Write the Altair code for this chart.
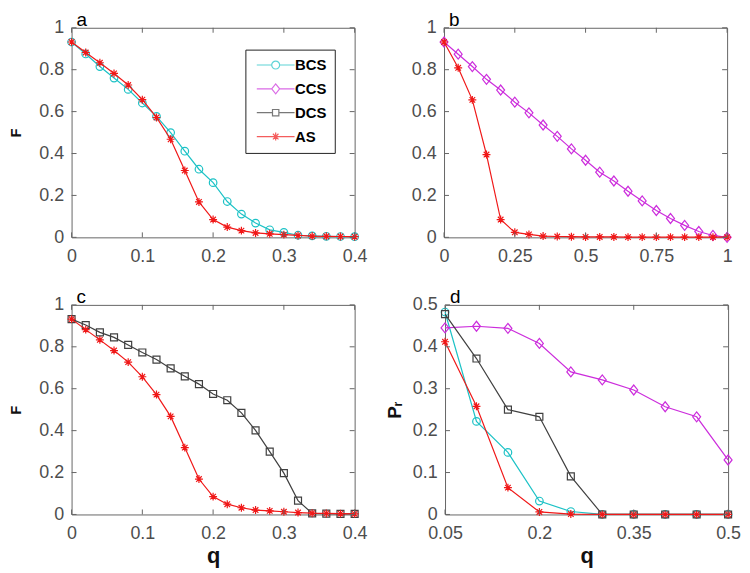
import altair as alt
import pandas as pd

# ---------------- data ----------------
series_names = ["BCS", "CCS", "DCS", "AS"]
series_colors = ["#1cc2c6", "#cc2ddc", "#404040", "#f01818"]

q_ac = [0.0, 0.02, 0.04, 0.06, 0.08, 0.10, 0.12, 0.14, 0.16, 0.18, 0.20,
        0.22, 0.24, 0.26, 0.28, 0.30, 0.32, 0.34, 0.36, 0.38, 0.40]
F_bcs_a = [0.932, 0.875, 0.815, 0.760, 0.706, 0.641, 0.577, 0.500, 0.411, 0.325, 0.261,
           0.171, 0.111, 0.068, 0.036, 0.024, 0.010, 0.007, 0.005, 0.004, 0.003]
F_as_ac = [0.932, 0.882, 0.833, 0.782, 0.727, 0.657, 0.572, 0.468, 0.319, 0.169, 0.085,
           0.049, 0.032, 0.021, 0.017, 0.013, 0.009, 0.006, 0.005, 0.004, 0.003]
F_dcs_c = [0.932, 0.904, 0.869, 0.845, 0.809, 0.773, 0.739, 0.697, 0.659, 0.622, 0.575,
           0.545, 0.485, 0.401, 0.300, 0.197, 0.066, 0.005, 0.004, 0.003, 0.003]

q_b = [0.0, 0.05, 0.10, 0.15, 0.20, 0.25, 0.30, 0.35, 0.40, 0.45, 0.50,
       0.55, 0.60, 0.65, 0.70, 0.75, 0.80, 0.85, 0.90, 0.95, 1.00]
F_ccs_b = [0.932, 0.874, 0.815, 0.754, 0.703, 0.645, 0.594, 0.536, 0.482, 0.422, 0.368,
           0.311, 0.269, 0.220, 0.174, 0.128, 0.090, 0.057, 0.028, 0.009, 0.000]
F_as_b = [0.932, 0.809, 0.656, 0.395, 0.085, 0.024, 0.014, 0.006, 0.004, 0.003, 0.002,
          0.002, 0.002, 0.001, 0.001, 0.001, 0.001, 0.001, 0.001, 0.001, 0.001]

q_d = [0.05, 0.10, 0.15, 0.20, 0.25, 0.30, 0.35, 0.40, 0.45, 0.50]
P_bcs_d = [0.483, 0.222, 0.148, 0.032, 0.007, 0.0, 0.0, 0.0, 0.0, 0.0]
P_ccs_d = [0.445, 0.449, 0.444, 0.408, 0.340, 0.321, 0.297, 0.257, 0.233, 0.130]
P_dcs_d = [0.478, 0.372, 0.250, 0.233, 0.091, 0.0, 0.0, 0.0, 0.0, 0.0]
P_as_d = [0.412, 0.258, 0.064, 0.006, 0.001, 0.0, 0.0, 0.0, 0.0, 0.0]

xticks_ac = [0, 0.1, 0.2, 0.3, 0.4]
xticks_b = [0, 0.25, 0.5, 0.75, 1]
xticks_d = [0.05, 0.2, 0.35, 0.5]
yticks_F = [0, 0.2, 0.4, 0.6, 0.8, 1]
yticks_P = [0, 0.1, 0.2, 0.3, 0.4, 0.5]

# ---------------- styling ----------------
W, H = 285, 211
FRAME = "#666666"
TICK_LEN = 5
FONT = "Liberation Sans"
LABEL_EXPR = "'' + datum.value"

ASTERISK = "M-1,0L1,0M0,-1L0,1M-0.7,-0.7L0.7,0.7M-0.7,0.7L0.7,-0.7"
DIAMOND = "M-1,0L0,-1.25L1,0L0,1.25Z"
marker_shape = {"BCS": "circle", "CCS": DIAMOND, "DCS": "square", "AS": ASTERISK}
marker_size = {"BCS": 58, "CCS": 64, "DCS": 49, "AS": 64}
color_of = dict(zip(series_names, series_colors))

STUB = "M-4.75,0L-1,0M1,0L4.75,0"
legend_paths = [
    STUB + "M-1,0A1,1,0,1,0,1,0A1,1,0,1,0,-1,0Z",
    STUB + "M-1,0L0,-1.25L1,0L0,1.25Z",
    "M-4.75,0L-0.8,0M0.8,0L4.75,0M-0.8,-0.8L0.8,-0.8L0.8,0.8L-0.8,0.8Z",
    "M-4.75,0L4.75,0M0,-1L0,1M-0.7,-0.7L0.7,0.7M-0.7,0.7L0.7,-0.7",
]


def panel(series, xdom, xticks, ydom, yticks, letter, ytitle, ytitle_size,
          ytitle_pad, xtitle, legend=False):
    frames = [pd.DataFrame({"q": xs, "v": ys, "series": name}) for name, xs, ys in series]
    df = pd.concat(frames, ignore_index=True)

    X = alt.X("q:Q",
              scale=alt.Scale(domain=xdom, nice=False, zero=False),
              axis=alt.Axis(values=xticks, labelExpr=LABEL_EXPR, grid=False, ticks=False,
                            domain=False, labelPadding=10, labelFlush=False,
                            labelOverlap=False, title=xtitle,
                            titleFontSize=22, titlePadding=3))
    Y = alt.Y("v:Q",
              scale=alt.Scale(domain=ydom, nice=False, zero=False),
              axis=alt.Axis(values=yticks, labelExpr=LABEL_EXPR, grid=False, ticks=False,
                            domain=False, labelPadding=8, labelFlush=False,
                            labelOverlap=False, title=ytitle,
                            titleFontSize=ytitle_size, titlePadding=ytitle_pad))

    layers = []
    for name, _, _ in series:
        c = color_of[name]
        base = alt.Chart(df).transform_filter(alt.datum.series == name)
        layers.append(base.mark_line(color=c, strokeWidth=1.2).encode(x=X, y=Y))
        layers.append(base.mark_point(shape=marker_shape[name], size=marker_size[name],
                                      filled=False, color=c, strokeWidth=1.2,
                                      opacity=1).encode(x=X, y=Y))

    xt = pd.DataFrame({"q": xticks})
    yt = pd.DataFrame({"v": yticks})
    layers.append(alt.Chart(xt).mark_rule(color=FRAME, strokeWidth=1).encode(
        x=X, y=alt.value(H), y2=alt.value(H - TICK_LEN)))
    layers.append(alt.Chart(xt).mark_rule(color=FRAME, strokeWidth=1).encode(
        x=X, y=alt.value(0), y2=alt.value(TICK_LEN)))
    layers.append(alt.Chart(yt).mark_rule(color=FRAME, strokeWidth=1).encode(
        y=Y, x=alt.value(0), x2=alt.value(TICK_LEN)))
    layers.append(alt.Chart(yt).mark_rule(color=FRAME, strokeWidth=1).encode(
        y=Y, x=alt.value(W - TICK_LEN), x2=alt.value(W)))

    layers.append(alt.Chart(pd.DataFrame({"t": [letter]})).mark_text(
        text=letter, align="left", baseline="alphabetic", fontSize=19,
        font=FONT, color="black").encode(x=alt.value(5), y=alt.value(-2)))

    if legend:
        leg = alt.Legend(orient="none", legendX=175, legendY=22, title=None,
                         padding=8, strokeColor="#222222", fillColor="white",
                         labelFont=FONT, labelFontWeight="bold", labelFontSize=15,
                         labelColor="black", symbolSize=64, symbolStrokeWidth=1.2,
                         symbolOffset=15, labelOffset=12, rowPadding=8)
        ldf = pd.DataFrame({"q": [0.0] * 4, "v": [0.0] * 4, "series": series_names})
        layers.append(alt.Chart(ldf).transform_filter("false").mark_point(
            filled=False, strokeWidth=1.2).encode(
            x=X, y=Y,
            color=alt.Color("series:N", scale=alt.Scale(domain=series_names,
                                                        range=series_colors), legend=leg),
            shape=alt.Shape("series:N", scale=alt.Scale(domain=series_names,
                                                        range=legend_paths), legend=leg)))

    return alt.layer(*layers).properties(width=W, height=H)


pa = panel([("BCS", q_ac, F_bcs_a), ("AS", q_ac, F_as_ac)],
           [0, 0.4], xticks_ac, [0, 1], yticks_F, "a", "F", 15, 15, None, legend=True)
pb = panel([("CCS", q_b, F_ccs_b), ("AS", q_b, F_as_b)],
           [0, 1], xticks_b, [0, 1], yticks_F, "b", None, 15, 15, None)
pc = panel([("DCS", q_ac, F_dcs_c), ("AS", q_ac, F_as_ac)],
           [0, 0.4], xticks_ac, [0, 1], yticks_F, "c", "F", 15, 15, "q")
pd_ = panel([("BCS", q_d, P_bcs_d), ("CCS", q_d, P_ccs_d),
             ("DCS", q_d, P_dcs_d), ("AS", q_d, P_as_d)],
            [0.05, 0.5], xticks_d, [0, 0.5], yticks_P, "d", "Pᵣ", 19, 8, "q")

chart = alt.vconcat(
    alt.hconcat(pa, pb, spacing=42),
    alt.hconcat(pc, pd_, spacing=16),
    spacing=21,
).properties(
    padding={"left": 0, "top": 0, "right": 0, "bottom": 0}
).configure_view(
    stroke=FRAME, strokeWidth=1
).configure_axis(
    labelFont=FONT, labelFontSize=18, labelColor="#4d4d4d",
    titleFont=FONT, titleFontWeight="bold", titleColor="#111111"
)

chart.save("out.html", embed_options={"renderer": "svg", "actions": False})
